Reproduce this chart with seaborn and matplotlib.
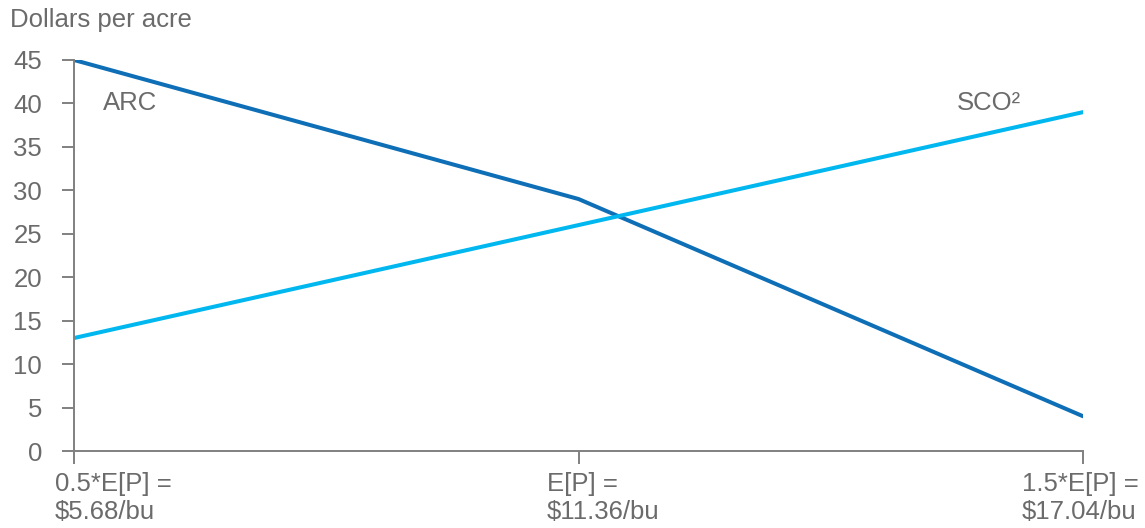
import matplotlib
matplotlib.use("Agg")
import matplotlib.pyplot as plt
import matplotlib.transforms as mtransforms
import pandas as pd
import seaborn as sns

# price scenarios on the x axis
scenarios = ["0.5*E[P] =\n$5.68/bu", "E[P] =\n$11.36/bu", "1.5*E[P] =\n$17.04/bu"]
arc_values = [45, 29, 4]
sco_values = [13, 26, 39]

df = pd.DataFrame({
    "pos": list(range(len(scenarios))) * 2,
    "value": arc_values + sco_values,
    "program": ["ARC"] * len(scenarios) + ["SCO"] * len(scenarios),
})

sns.set_theme(style="white")
plt.rcParams["font.family"] = ["Liberation Sans", "DejaVu Sans"]

gray = "#6b6b6b"
fs = 18.5
fig = plt.figure(figsize=(11.45, 5.28), dpi=100)
ax = fig.add_axes([0.0646, 0.1458, 0.9459 - 0.0646, 0.8864 - 0.1458])

sns.lineplot(data=df, x="pos", y="value", hue="program",
             palette={"ARC": "#0f6fb6", "SCO": "#00b8ef"},
             linewidth=2.9, legend=False, ax=ax)

ax.set_xlim(0, 2)
ax.set_ylim(0, 45)
ax.set_yticks(range(0, 46, 5))
ax.set_xticks(range(len(scenarios)))
ax.set_xticklabels(scenarios, ha="left", linespacing=1.2)
ax.set_xlabel("")
ax.set_ylabel("")

for s in ["top", "right"]:
    ax.spines[s].set_visible(False)
for s in ["left", "bottom"]:
    ax.spines[s].set_color("#808080")
    ax.spines[s].set_linewidth(1.4)

ax.tick_params(axis="both", colors="#808080", labelcolor=gray, labelsize=fs,
               length=9, width=1.4, direction="out", left=True, bottom=True)
ax.tick_params(axis="y", pad=14)
ax.tick_params(axis="x", pad=6)

# shift x labels to match the original placement
shifts = [-19, -32, -61]
for lbl, dx in zip(ax.get_xticklabels(), shifts):
    lbl.set_transform(lbl.get_transform() + mtransforms.ScaledTranslation(dx / 100, 0, fig.dpi_scale_trans))

ax.text(0.057, 40, "ARC", color=gray, fontsize=fs, va="center", ha="left")
ax.text(1.750, 40, "SCO²", color=gray, fontsize=fs, va="center", ha="left")
fig.text(0.009, 0.962, "Dollars per acre", color=gray, fontsize=fs, va="center", ha="left")

fig.savefig("out.png", dpi=100)
